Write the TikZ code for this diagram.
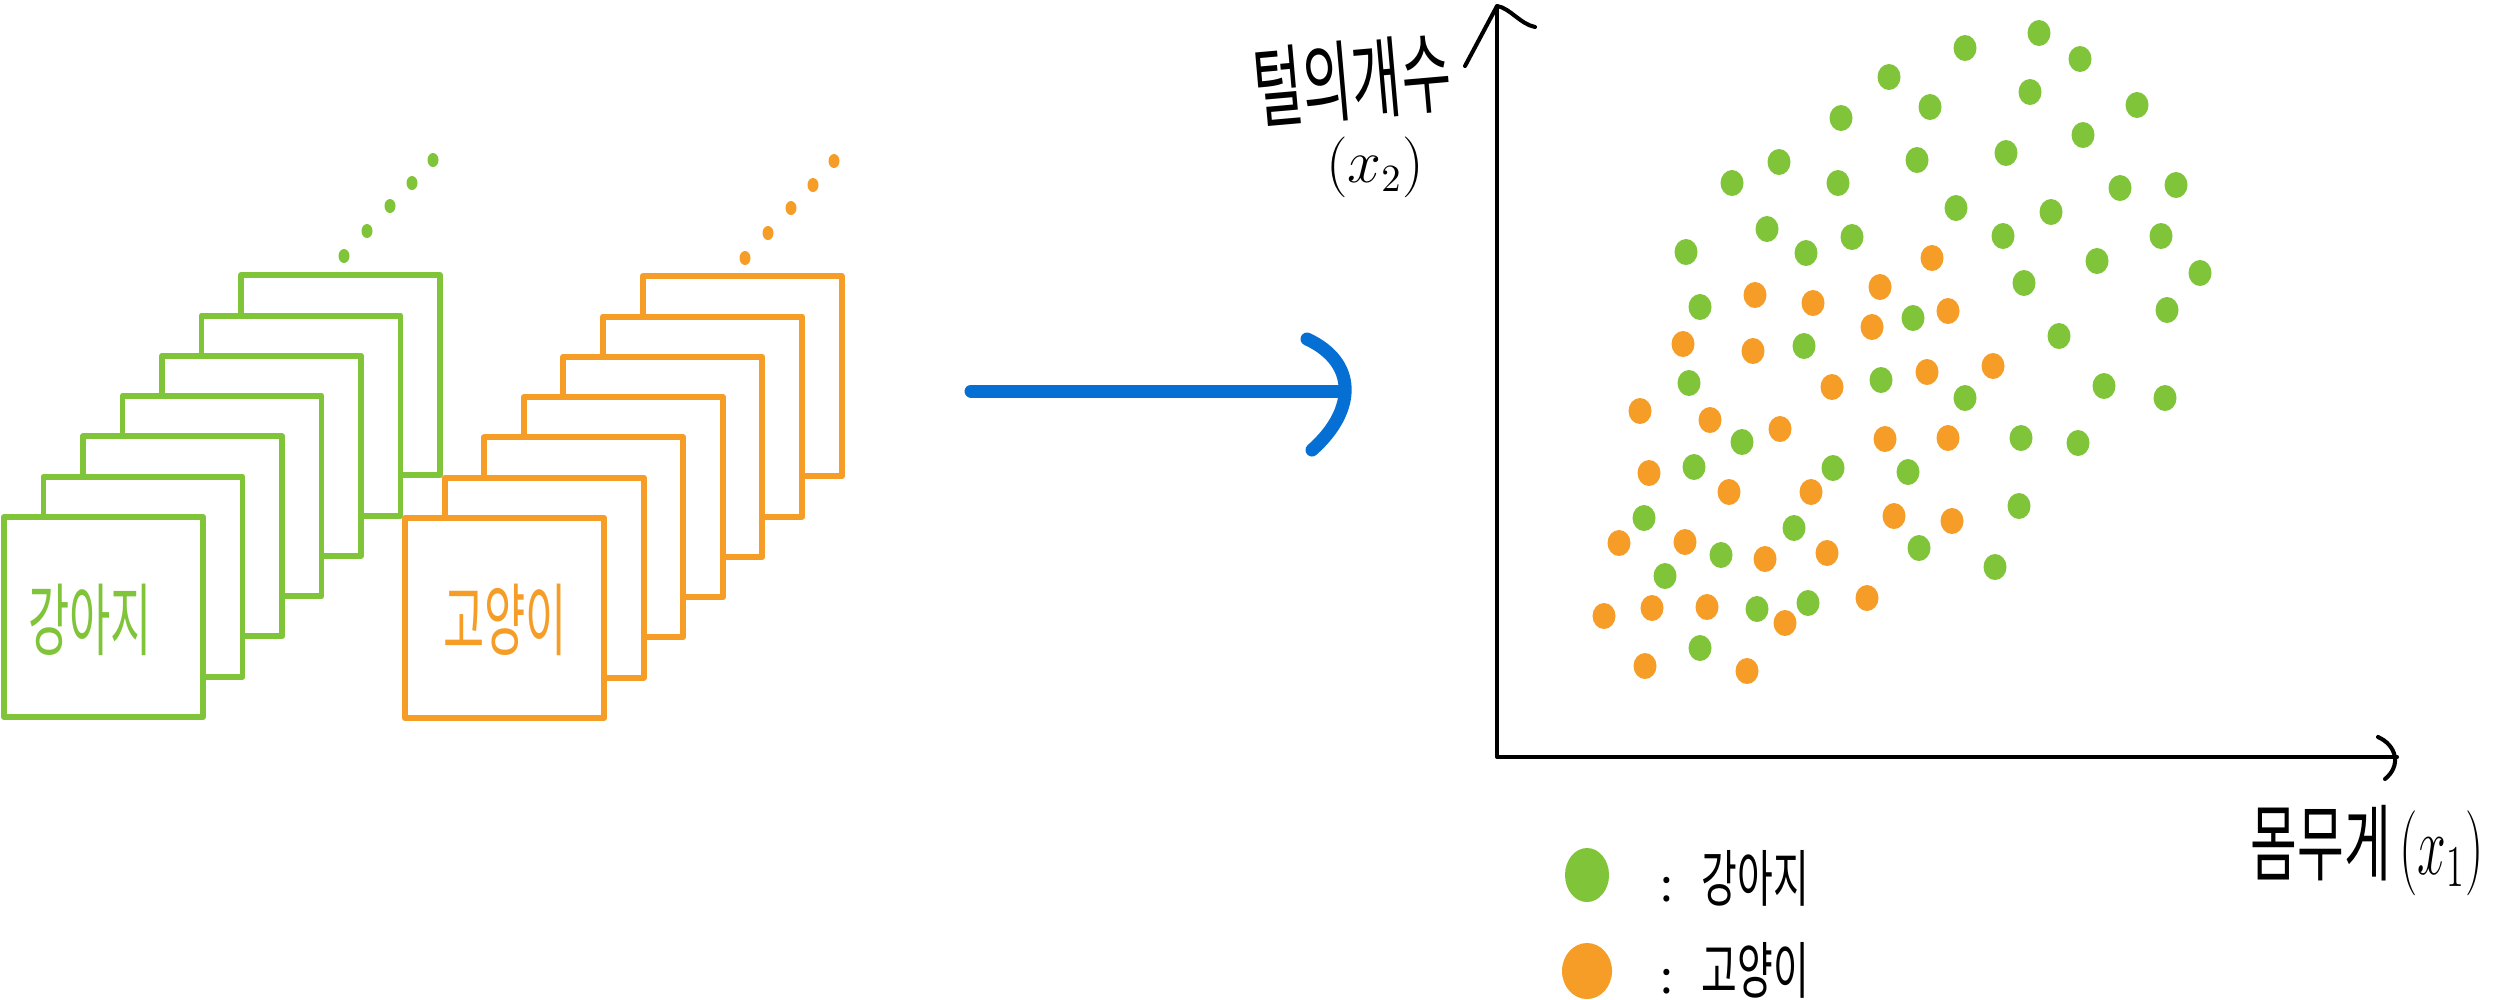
\documentclass[tikz,border=0pt]{standalone}
\usepackage{fontspec}
\newfontfamily\kr{Noto Sans CJK KR}
\definecolor{gr}{RGB}{128,196,58}
\definecolor{or}{RGB}{245,157,38}
\definecolor{bl}{RGB}{5,111,212}
\begin{document}
\begin{tikzpicture}[x=0.01cm,y=-0.01cm,
  gbox/.style={draw=gr,fill=white,line width=1.7pt,line join=round},
  obox/.style={draw=or,fill=white,line width=1.7pt,line join=round},
  axisline/.style={line width=1.15pt,line cap=round,line join=round},
  bluearrow/.style={draw=bl,line width=3.7pt,line cap=round},
  lbl/.style={inner sep=0pt,font=\kr},
]
\useasboundingbox (0,0) rectangle (2494,999);

% stacks of cards
\foreach \k in {6,5,...,0} {
  \draw[gbox] ({4+39.5*\k},{517-40.3*\k}) rectangle ++(199,200);
  \draw[obox] ({405+39.6*\k},{518-40.3*\k}) rectangle ++(199,200);
}
\node[lbl,text=gr] (dogcard) at (90,620) {\fontsize{15pt}{15pt}\selectfont\scalebox{0.85}[1.5]{강아지}};
\node[lbl,text=or] (catcard) at (505,620) {\fontsize{15pt}{15pt}\selectfont\scalebox{0.85}[1.5]{고양이}};

% ellipsis dots
\foreach \x/\y in {344/256,367/231,390/206,412/183,433/160}
  \fill[gr] (\x,\y) ellipse [x radius=0.055cm,y radius=0.07cm];
\foreach \x/\y in {745/258,768/233,791/208,813/185,834/161}
  \fill[or] (\x,\y) ellipse [x radius=0.055cm,y radius=0.07cm];

% blue arrow
\coordinate (aS) at (971,391);
\coordinate (aE) at (1341,391);
\draw[bluearrow] (aS) -- (aE);
\draw[bluearrow] (1307,339) .. controls (1357,362) and (1357,410) .. (1312,450);

% axes
\coordinate (O) at (1497,757);
\coordinate (Ytop) at (1497,6);
\coordinate (Xend) at (2397,757);
\draw[axisline] (Ytop) -- (O) -- (Xend);
\draw[axisline] (1465,66) -- (Ytop) .. controls (1510,8) and (1520,24) .. (1535,27);
\draw[axisline] (2378,737) .. controls (2396,745) and (2402,765) .. (2385,779);

\node[lbl,rotate=5] (ylab) at (1352,80) {\fontsize{18pt}{18pt}\selectfont\scalebox{0.85}[1.4]{털의개수}};
\node[inner sep=0pt] (ylab2) at (1375,167) {\fontsize{16pt}{16pt}\selectfont$(x_2)$};
\node[lbl,anchor=west] (xlab) at (2250,850) {\fontsize{17pt}{17pt}\selectfont\scalebox{0.85}[1.4]{몸무게\,$(x_1)$}};

% scatter: dogs
\foreach \x/\y in {2039/33,1965/48,2080/59,1889/77,2030/92,1841/118,1930/107,2137/105,2083/135,
  1779/162,1917/160,2006/153,1732/183,1838/183,2120/188,2176/185,1956/208,2051/212,1767/229,
  1686/252,1806/253,1852/237,2003/236,2161/236,2097/261,2200/273,2024/283,1700/307,1913/318,
  2167/310,2059/336,1804/346,1689/383,1881/380,2104/386,1965/398,2165/398,
  1742/442,2021/438,2078/443,1694/467,1833/468,1908/472,1644/518,1794/528,2019/506,1721/555,
  1919/548,1995/567,1665/576,1757/609,1808/603,1700/648}
  \fill[gr] (\x,\y) ellipse [x radius=0.115cm,y radius=0.13cm];
% scatter: cats
\foreach \x/\y in {1932/258,1880/287,1755/295,1813/303,1948/311,1872/327,1683/344,1753/351,
  1993/366,1832/387,1927/372,1640/411,1710/420,1780/429,1885/439,1948/438,1649/473,1729/492,
  1811/492,1894/516,1952/521,1619/543,1685/542,1765/559,1827/553,1604/616,1652/608,1707/607,
  1867/598,1785/623,1645/666,1747/671}
  \fill[or] (\x,\y) ellipse [x radius=0.115cm,y radius=0.13cm];

% legend
\fill[gr] (1587,875) ellipse [x radius=0.22cm,y radius=0.27cm];
\fill[or] (1587,971) ellipse [x radius=0.25cm,y radius=0.28cm];
\node[lbl,anchor=west] (lgdog) at (1660,878) {\fontsize{13pt}{13pt}\selectfont :\hspace{8pt}\scalebox{0.85}[1.35]{강아지}};
\node[lbl,anchor=west] (lgcat) at (1660,970) {\fontsize{13pt}{13pt}\selectfont :\hspace{8pt}\scalebox{0.85}[1.35]{고양이}};
\end{tikzpicture}
\end{document}
